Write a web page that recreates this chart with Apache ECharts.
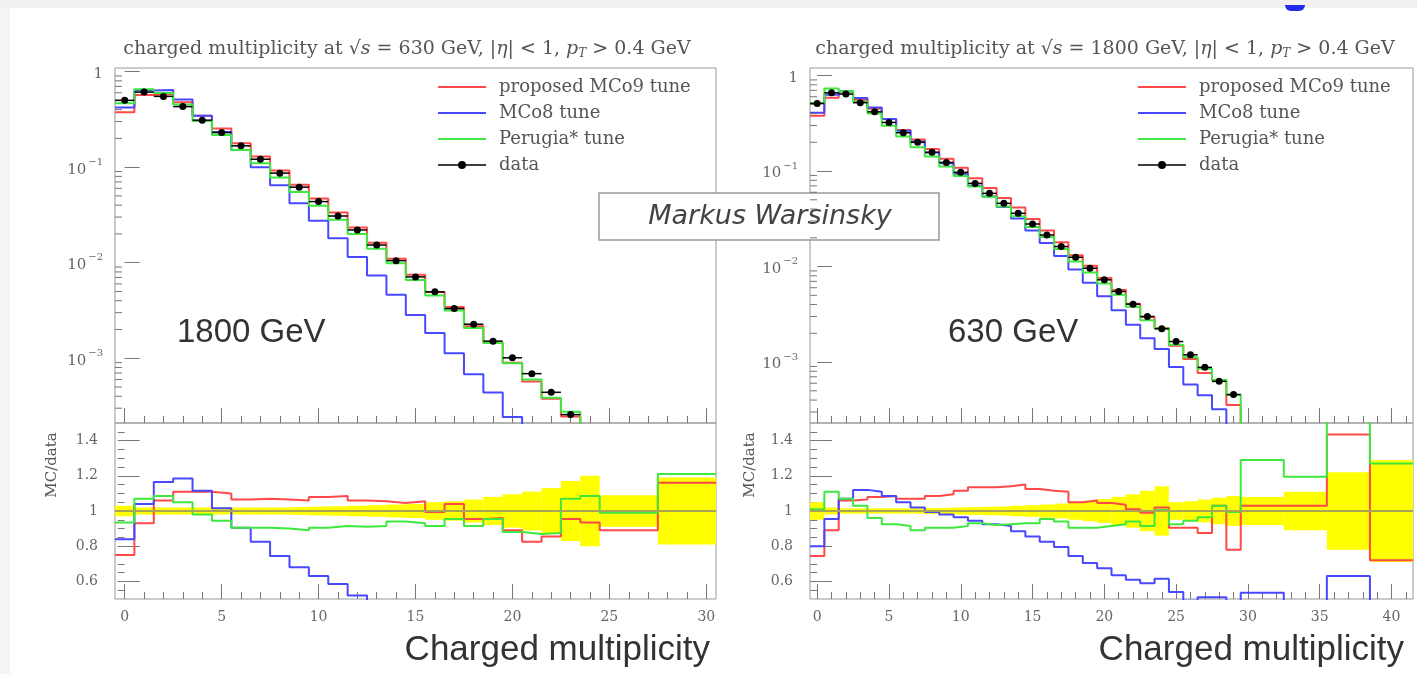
<!DOCTYPE html>
<html>
<head>
<meta charset="utf-8">
<title>Charged multiplicity</title>
<script src="https://cdn.jsdelivr.net/npm/echarts@6.0.0/dist/echarts.min.js"></script>
<style>
  html, body { margin: 0; padding: 0; background: #fff; }
  #chart { width: 1417px; height: 674px; }
</style>
</head>
<body>
<div id="chart"></div>
<script>
// ---- left panel (630 GeV title, "1800 GeV" label) ----
// bin edges of the ratio histogram; integer bins, then two merged bins
const leftEdges = [-0.5, 0.5, 1.5, 2.5, 3.5, 4.5, 5.5, 6.5, 7.5, 8.5, 9.5, 10.5, 11.5, 12.5,
  13.5, 14.5, 15.5, 16.5, 17.5, 18.5, 19.5, 20.5, 21.5, 22.5, 23.5, 24.5, 27.5, 30.5];
// data, per multiplicity bin 0..24
const leftData = [0.50, 0.61, 0.55, 0.43, 0.31, 0.23, 0.167, 0.121, 0.0865, 0.0617, 0.0436,
  0.0308, 0.022, 0.0153, 0.0105, 0.0071, 0.00495, 0.00331, 0.00227, 0.00151, 0.00101,
  0.00069, 0.00044, 0.000257, 0.00016];
// MC / data
const leftRed = [0.75, 0.93, 1.06, 1.11, 1.11, 1.10, 1.065, 1.07, 1.065, 1.06, 1.08, 1.085,
  1.06, 1.055, 1.045, 1.055, 0.995, 1.04, 0.955, 0.96, 0.89, 0.825, 0.855, 0.955, 0.935, 0.89, 1.16];
const leftBlue = [0.84, 1.04, 1.165, 1.185, 1.115, 1.015, 0.905, 0.825, 0.745, 0.68, 0.63, 0.585,
  0.52, 0.48, 0.44, 0.40, 0.37, 0.34, 0.30, 0.29, 0.24, 0.18, 0.15, 0.12, 0.10, 0.10, 0.10];
const leftGreen = [0.935, 1.07, 1.085, 1.05, 0.98, 0.945, 0.905, 0.905, 0.90, 0.89, 0.905, 0.915,
  0.91, 0.915, 0.94, 0.93, 0.915, 0.955, 0.915, 0.955, 0.88, 0.87, 0.875, 1.07, 1.085, 0.99, 1.21];
// relative data uncertainty (yellow band half width)
const leftErr = [0.03, 0.02, 0.02, 0.02, 0.02, 0.02, 0.02, 0.02, 0.02, 0.022, 0.025, 0.027, 0.03,
  0.033, 0.037, 0.04, 0.05, 0.055, 0.065, 0.08, 0.095, 0.11, 0.13, 0.17, 0.2, 0.09, 0.19];

// ---- right panel (1800 GeV title, "630 GeV" label) ----
const rightEdges = [-0.5, 0.5, 1.5, 2.5, 3.5, 4.5, 5.5, 6.5, 7.5, 8.5, 9.5, 10.5, 11.5, 12.5,
  13.5, 14.5, 15.5, 16.5, 17.5, 18.5, 19.5, 20.5, 21.5, 22.5, 23.5, 24.5, 25.5, 26.5, 27.5,
  28.5, 29.5, 32.5, 35.5, 38.5, 41.5];
const rightData = [0.51, 0.66, 0.64, 0.52, 0.417, 0.323, 0.252, 0.20, 0.157, 0.123, 0.0969,
  0.0743, 0.0584, 0.0459, 0.0361, 0.0279, 0.0214, 0.0162, 0.0125, 0.0096, 0.00726, 0.00548,
  0.00404, 0.0030, 0.00223, 0.00164, 0.00119, 0.00088, 0.000628, 0.000456];
const rightRed = [0.745, 0.89, 1.06, 1.065, 1.08, 1.085, 1.07, 1.07, 1.085, 1.095, 1.115, 1.135,
  1.135, 1.14, 1.15, 1.125, 1.115, 1.11, 1.05, 1.06, 1.045, 1.035, 1.01, 0.99, 1.02, 0.905,
  0.905, 0.875, 1.03, 0.78, 1.03, 1.03, 1.435, 0.72];
const rightBlue = [0.80, 0.955, 1.07, 1.12, 1.11, 1.085, 1.05, 1.02, 0.995, 0.98, 0.965, 0.945,
  0.925, 0.915, 0.885, 0.855, 0.825, 0.795, 0.745, 0.705, 0.675, 0.635, 0.61, 0.59, 0.615, 0.54,
  0.49, 0.51, 0.51, 0.44, 0.535, 0.40, 0.63, 0.40];
const rightGreen = [1.01, 1.11, 1.07, 1.03, 0.96, 0.925, 0.915, 0.89, 0.905, 0.905, 0.915, 0.93,
  0.92, 0.925, 0.93, 0.93, 0.955, 0.94, 0.905, 0.905, 0.915, 0.925, 0.94, 0.915, 1.005, 0.925,
  0.945, 0.965, 1.03, 0.995, 1.29, 1.195, 1.60, 1.27];
const rightErr = [0.05, 0.02, 0.015, 0.015, 0.015, 0.015, 0.015, 0.015, 0.017, 0.018, 0.02, 0.022,
  0.024, 0.026, 0.03, 0.033, 0.037, 0.042, 0.05, 0.058, 0.068, 0.08, 0.095, 0.115, 0.14, 0.05,
  0.055, 0.065, 0.075, 0.085, 0.08, 0.11, 0.22, 0.29];

const names = ['proposed MCo9 tune', 'MCo8 tune', 'Perugia* tune', 'data'];
const colors = ['#ff4848', '#4848ff', '#3ee83e', '#000'];
const ratioLabels = [0.6, 0.8, 1, 1.2, 1.4];

const SERIF = 'DejaVu Serif';
const SANS = 'Liberation Sans';
const TXT = '#555';
const TICK = '#777';
const FLOOR = 1e-8;

// histogram outline as points for a line series
function steps(edges, vals, drop) {
  const pts = [];
  for (let i = 0; i < vals.length; i++) {
    pts.push([edges[i], vals[i]], [edges[i + 1], vals[i]]);
  }
  if (drop) pts.push([edges[vals.length], FLOOR]);
  return pts;
}

function range(a, b, step) {
  const out = [];
  for (let v = a; v <= b + 1e-9; v += step) out.push(Math.round(v * 100) / 100);
  return out;
}

const logMinor = [];
for (let e = -4; e <= 0; e++) {
  for (let k = 2; k <= 9; k++) logMinor.push(k * Math.pow(10, e));
}

const chart = echarts.init(document.getElementById('chart'));

const grids = [], xAxes = [], yAxes = [], series = [];

function panel(p) {
  const g = grids.length;
  grids.push({left: p.left, top: 68, width: p.width, height: 355, show: true,
    borderColor: '#999', borderWidth: 1, containLabel: false, outerBoundsMode: 'none'});
  grids.push({left: p.left, top: 423, width: p.width, height: 176, show: true,
    borderColor: '#999', borderWidth: 1, containLabel: false, outerBoundsMode: 'none'});

  const majors = range(0, p.xMax, 5);
  const minors = range(0, p.xMax, 1);
  const xi = xAxes.length;
  [g, g + 1].forEach((gi, k) => {
    xAxes.push({
      type: 'value', gridIndex: gi, min: -0.5, max: p.xMax + 0.5, position: 'bottom',
      axisLine: {show: false, onZero: false}, splitLine: {show: false},
      axisTick: {inside: true, length: 15, customValues: majors, lineStyle: {color: TICK}},
      axisLabel: {show: k === 1, customValues: majors, margin: 11, fontFamily: SERIF,
        fontSize: 14, color: '#666'}
    });
    xAxes.push({
      type: 'value', gridIndex: gi, min: -0.5, max: p.xMax + 0.5, position: 'bottom',
      axisLine: {show: false, onZero: false}, splitLine: {show: false},
      axisTick: {inside: true, length: 7, customValues: minors, lineStyle: {color: TICK}},
      axisLabel: {show: false}
    });
  });

  const yi = yAxes.length;
  yAxes.push({
    type: 'log', gridIndex: g, min: p.yMin, max: p.yMax, logBase: 10,
    axisLine: {show: false}, splitLine: {show: false},
    axisTick: {inside: true, length: 15, lineStyle: {color: TICK}},
    axisLabel: {
      margin: 12, showMinLabel: false, showMaxLabel: false, color: '#666',
      formatter: function (v) {
        const e = Math.round(Math.log10(v));
        return e === 0 ? '{b|1}' : '{b|10}{s|\u2212' + (-e) + '}';
      },
      rich: {
        b: {fontFamily: SERIF, fontSize: 15, color: '#666', lineHeight: 20, verticalAlign: 'bottom'},
        s: {fontFamily: SERIF, fontSize: 10, color: '#666', lineHeight: 20, verticalAlign: 'top', padding: [0, 0, 0, 2]}
      }
    }
  });
  yAxes.push({
    type: 'value', gridIndex: g + 1, min: 0.5, max: 1.5,
    axisLine: {show: false}, splitLine: {show: false},
    axisTick: {inside: true, length: 15, customValues: ratioLabels, lineStyle: {color: TICK}},
    axisLabel: {customValues: ratioLabels, margin: 17, fontFamily: SERIF, fontSize: 14, color: '#666'}
  });
  yAxes.push({
    type: 'value', gridIndex: g + 1, min: 0.5, max: 1.5,
    axisLine: {show: false}, splitLine: {show: false},
    axisTick: {inside: true, length: 7, customValues: range(0.55, 1.45, 0.05), lineStyle: {color: TICK}},
    axisLabel: {show: false}
  });

  const top = {xAxisIndex: xi, yAxisIndex: yi};
  const bot = {xAxisIndex: xi + 2, yAxisIndex: yi + 1};

  // yellow data uncertainty band + line at 1
  series.push(Object.assign({
    type: 'custom', name: 'band', silent: true, z: 1, clip: true,
    data: p.err.map((e, i) => [p.edges[i], p.edges[i + 1], 1 - e, 1 + e]),
    encode: {x: [0, 1], y: [2, 3]},
    renderItem: function (params, api) {
      const a = api.coord([api.value(0), api.value(3)]);
      const b = api.coord([api.value(1), api.value(2)]);
      return {type: 'rect', shape: {x: a[0], y: a[1], width: b[0] - a[0], height: b[1] - a[1]},
        style: {fill: '#ffff00'}};
    },
    markLine: {silent: true, symbol: 'none', label: {show: false}, animation: false,
      lineStyle: {color: '#aaa455', width: 2, type: 'solid'}, data: [{yAxis: 1}]}
  }, bot));

  [p.red, p.blue, p.green].forEach((r, k) => {
    const mc = p.data.map((d, i) => d * r[i]);
    series.push(Object.assign({
      type: 'line', name: names[k], data: steps(p.edges, mc, true), symbol: 'none',
      lineStyle: {width: 2, color: colors[k]}, itemStyle: {color: colors[k]}, z: 3, clip: true, silent: true
    }, top));
    series.push(Object.assign({
      type: 'line', name: names[k], data: steps(p.edges, r, false), symbol: 'none',
      lineStyle: {width: 2, color: colors[k]}, itemStyle: {color: colors[k]}, z: 3, clip: true, silent: true
    }, bot));
  });

  // data points with bin-width error bars
  series.push(Object.assign({
    type: 'custom', name: 'data', z: 5, clip: true, itemStyle: {color: '#000'},
    data: p.data.map((d, i) => [i, d]),
    encode: {x: 0, y: 1},
    renderItem: function (params, api) {
      const x = api.value(0), y = api.value(1);
      const l = api.coord([x - 0.5, y]), r = api.coord([x + 0.5, y]), c = api.coord([x, y]);
      return {type: 'group', children: [
        {type: 'line', shape: {x1: l[0], y1: l[1], x2: r[0], y2: r[1]}, style: {stroke: '#000', lineWidth: 1.5}},
        {type: 'circle', shape: {cx: c[0], cy: c[1], r: 3.5}, style: {fill: '#000'}}
      ]};
    }
  }, top));

  // log minor ticks at 2..9 x 10^n
  series.push(Object.assign({
    type: 'custom', name: 'ticks', silent: true, z: 4, clip: false,
    data: logMinor.filter(v => v > p.yMin && v < p.yMax).map(v => [-0.5, v]),
    encode: {x: 0, y: 1},
    renderItem: function (params, api) {
      const c = api.coord([api.value(0), api.value(1)]);
      return {type: 'line', shape: {x1: c[0], y1: c[1], x2: c[0] + 7, y2: c[1]},
        style: {stroke: TICK, lineWidth: 1}};
    }
  }, top));
}

panel({left: 115, width: 601, xMax: 30, yMin: 2.1e-4, yMax: 1.09, edges: leftEdges,
  data: leftData, red: leftRed, blue: leftBlue, green: leftGreen, err: leftErr});
panel({left: 810, width: 603, xMax: 41, yMin: 2.3e-4, yMax: 1.2, edges: rightEdges,
  data: rightData, red: rightRed, blue: rightBlue, green: rightGreen, err: rightErr});

const lineIcon = 'path://M0,0h48v2h-48z';
const dataIcon = 'path://M0,3.25h20.5v1.5h-20.5z M27.5,3.25h20.5v1.5h-20.5z M20,4a4,4 0 1,1 8,0a4,4 0 1,1 -8,0z';
function legendAt(left) {
  return {
    left: left, top: 73, orient: 'vertical', itemWidth: 48, itemHeight: 10, itemGap: 8,
    selectedMode: false,
    textStyle: {fontFamily: SERIF, fontSize: 18, lineHeight: 16, color: TXT, padding: [0, 0, 0, 8]},
    data: names.map((n, k) => ({name: n, icon: k === 3 ? dataIcon : lineIcon}))
  };
}

function titleText(energy) {
  return '{a|charged multiplicity at \u221A}{i|s}{a| = ' + energy +
    ' GeV, |}{i|\u03B7}{a|| < 1, }{i|p}{sub|T}{a| > 0.4 GeV}';
}
const titleRich = {
  a: {fontFamily: SERIF, fontSize: 19, fontWeight: 'normal', color: TXT, lineHeight: 22},
  i: {fontFamily: SERIF, fontSize: 19, fontWeight: 'normal', fontStyle: 'italic', color: TXT, lineHeight: 22},
  sub: {fontFamily: SERIF, fontSize: 12, fontWeight: 'normal', fontStyle: 'italic', color: TXT,
    lineHeight: 17, verticalAlign: 'bottom'}
};

chart.setOption({
  animation: false,
  backgroundColor: '#fff',
  title: [
    {text: titleText(630), left: 402, top: 33, textAlign: 'center',
      textStyle: {fontWeight: 'normal', rich: titleRich}},
    {text: titleText(1800), left: 1100, top: 33, textAlign: 'center',
      textStyle: {fontWeight: 'normal', rich: titleRich}}
  ],
  legend: [legendAt(433), legendAt(1133)],
  grid: grids,
  xAxis: xAxes,
  yAxis: yAxes,
  series: series,
  graphic: [
    {type: 'rect', shape: {x: 0, y: 0, width: 1417, height: 8}, style: {fill: '#f1f1f1'}, silent: true},
    {type: 'rect', shape: {x: 0, y: 8, width: 10, height: 666}, style: {fill: '#f4f4f4'}, silent: true},
    {type: 'rect', shape: {x: 1285, y: 5, width: 20, height: 6, r: [0, 0, 6, 6]}, style: {fill: '#1f2cf0'}, silent: true},
    {type: 'text', x: 52, y: 465, rotation: Math.PI / 2,
      style: {text: 'MC/data', fontFamily: SERIF, fontSize: 15, fill: TXT, align: 'center', verticalAlign: 'middle'}},
    {type: 'text', x: 750, y: 465, rotation: Math.PI / 2,
      style: {text: 'MC/data', fontFamily: SERIF, fontSize: 15, fill: TXT, align: 'center', verticalAlign: 'middle'}},
    {type: 'text', x: 710, y: 650,
      style: {text: 'Charged multiplicity', fontFamily: SANS, fontSize: 35, fill: '#333', align: 'right', verticalAlign: 'middle'}},
    {type: 'text', x: 1404, y: 650,
      style: {text: 'Charged multiplicity', fontFamily: SANS, fontSize: 35, fill: '#333', align: 'right', verticalAlign: 'middle'}},
    {type: 'text', x: 177, y: 333,
      style: {text: '1800 GeV', fontFamily: SANS, fontSize: 33, fill: '#333', align: 'left', verticalAlign: 'middle'}},
    {type: 'text', x: 948, y: 333,
      style: {text: '630 GeV', fontFamily: SANS, fontSize: 33, fill: '#333', align: 'left', verticalAlign: 'middle'}},
    {type: 'group', z: 100, children: [
      {type: 'rect', shape: {x: 599, y: 193, width: 340, height: 47},
        style: {fill: '#fff', stroke: '#999', lineWidth: 1.5}},
      {type: 'text', x: 770, y: 217,
        style: {text: 'Markus Warsinsky', fontFamily: 'DejaVu Sans', fontStyle: 'italic', fontSize: 27,
          fill: '#444', align: 'center', verticalAlign: 'middle'}}
    ]}
  ]
});
</script>
</body>
</html>
